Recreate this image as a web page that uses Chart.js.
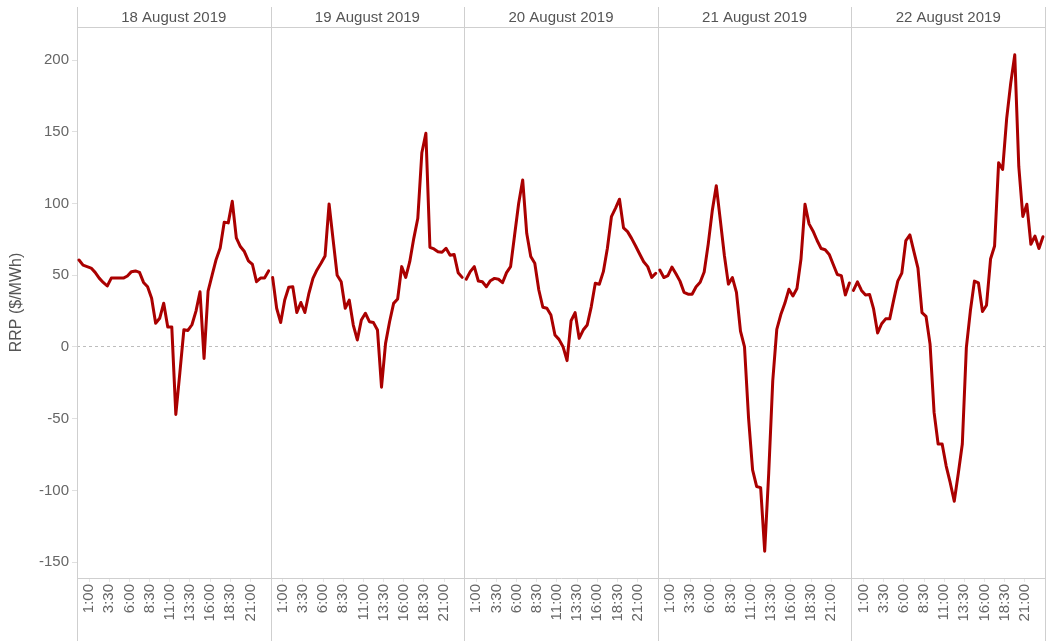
<!DOCTYPE html>
<html>
<head>
<meta charset="utf-8">
<title>RRP by day</title>
<script src="https://cdn.jsdelivr.net/npm/chart.js@4/dist/chart.umd.min.js"></script>
<style>
  html, body { margin: 0; padding: 0; background: #fff; }
  #wrap { position: relative; width: 1049px; height: 641px; }
</style>
</head>
<body>
<div id="wrap"><canvas id="rrpChart"></canvas></div>
<script>
// ===== Data =====
const dayLabels = ['18 August 2019', '19 August 2019', '20 August 2019', '21 August 2019', '22 August 2019'];
const timeLabels = ['1:00', '3:30', '6:00', '8:30', '11:00', '13:30', '16:00', '18:30', '21:00'];
const yTicks = [-150, -100, -50, 0, 50, 100, 150, 200];

// half-hourly RRP, $/MWh
const rrp18 = [60.6, 57, 56, 55, 52, 48, 45, 42.5, 48, 48, 48, 48, 49.5, 52.5, 53, 52,
  45, 42, 34, 16.5, 20, 30.5, 14, 14, -47, -18, 12, 11.5, 15.5, 25, 38.5, -8,
  39, 50, 61, 69, 87, 86.5, 101.5, 76, 70, 66.5, 60, 57.5, 45.5, 48, 48, 53];
const rrp19 = [48.5, 27, 17, 32.7, 41.6, 42, 24, 31, 24, 37.4, 47.8, 53.7, 58.3, 63.4, 99.7, 74.6,
  50, 45.5, 27, 32.7, 15.3, 4.9, 18.8, 23.5, 17.6, 17, 11.8, -28, 2.5, 17.6, 30.4, 33.4,
  56, 48.5, 59.4, 75.7, 89.7, 135.4, 148.9, 69.5, 68.3, 66.4, 66, 68.8, 64, 64.5, 51.8, 48.5];
const rrp20 = [47.2, 52.5, 56, 46, 45.5, 42, 46.2, 47.8, 47.2, 44.8, 51.8, 56, 78, 100, 116.4, 79.2,
  63, 58.3, 39.7, 27.7, 27, 22.3, 8.4, 5.3, 0.2, -9.5, 18.3, 23.9, 6, 11.8, 15.3, 28,
  44.4, 43.7, 52.5, 68.8, 90.8, 96.6, 103, 83, 80.4, 75.7, 70.4, 64.8, 59.4, 56, 48.5, 51.4];
const rrp21 = [53.6, 48.4, 49.7, 55.7, 51, 45.9, 38.1, 36.8, 36.8, 42, 45.1, 52.3, 71.7, 94.9, 112.4, 88.4,
  63.9, 43.8, 48.4, 38.1, 11.1, 0, -49.5, -85.6, -97.2, -98, -142.3, -88, -23.6, 12.3, 22.6, 30.4,
  40.2, 35.5, 40.7, 61.3, 99.5, 85.8, 80.7, 74.2, 68.6, 67.8, 64.5, 57.5, 50.5, 49.7, 36.3, 44.6];
const rrp22 = [39.4, 45.4, 39.4, 36.3, 36.6, 26.5, 9.8, 16.2, 19.6, 19.6, 33, 45.9, 51.5, 74.2, 78.1, 66.5,
  54.9, 24, 21.4, 2, -45.6, -67.6, -67.6, -83, -94.6, -107.5, -88.2, -67.6, -0.5, 25.2, 45.9, 44.6,
  24.7, 29.1, 61.3, 70.4, 128.4, 123.7, 159.3, 183.8, 203.6, 125.8, 91, 99.5, 71.6, 77.3, 68.6, 76.8];

const dayValues = [rrp18, rrp19, rrp20, rrp21, rrp22];

// ===== Layout =====
const SLOTS = 48;            // half hours per panel
const LINE_COLOR = '#aa0000';
const GRID_COLOR = '#cfcfcf';
const FONT = '"Liberation Sans", Arial, sans-serif';

// each day gets its own 48-slot band on one linear x axis
function slotX(day, i) {
  return day * SLOTS + i + 0.5;
}

function timeToX(day, label) {
  const [h, m] = label.split(':').map(Number);
  return day * SLOTS + (h + m / 60) * 2 + 1;
}

// ===== Plugins =====
// panel separators + header rule
const panelFrame = {
  id: 'panelFrame',
  beforeDatasetsDraw(chart) {
    const { ctx, chartArea, scales: { x } } = chart;
    ctx.save();
    ctx.strokeStyle = GRID_COLOR;
    ctx.lineWidth = 1;
    ctx.beginPath();
    for (let d = 0; d <= dayLabels.length; d++) {
      const px = Math.round(x.getPixelForValue(d * SLOTS)) + 0.5;
      ctx.moveTo(px, 7);
      ctx.lineTo(px, chart.height);
    }
    const ty = Math.round(chartArea.top) + 0.5;
    ctx.moveTo(chartArea.left, ty);
    ctx.lineTo(chartArea.right, ty);
    ctx.stroke();
    ctx.restore();
  }
};

// ===== Chart =====
const datasets = dayValues.map((vals, d) => ({
  label: dayLabels[d],
  data: vals.map((v, i) => ({ x: slotX(d, i), y: v })),
  borderColor: LINE_COLOR,
  borderWidth: 3,
  borderJoinStyle: 'round',
  borderCapStyle: 'round',
  pointRadius: 0,
  tension: 0,
  fill: false
}));

const xMax = dayLabels.length * SLOTS;

new Chart(document.getElementById('rrpChart'), {
  type: 'line',
  data: { datasets },
  plugins: [panelFrame],
  options: {
    responsive: true,
    maintainAspectRatio: false,
    animation: false,
    layout: { padding: { left: 0, right: 4, top: 0, bottom: 0 } },
    plugins: {
      legend: { display: false },
      tooltip: { enabled: false }
    },
    scales: {
      x: {
        type: 'linear',
        position: 'bottom',
        min: 0,
        max: xMax,
        afterBuildTicks: (scale) => {
          const ticks = [];
          dayLabels.forEach((_, d) => {
            timeLabels.forEach(t => ticks.push({ value: timeToX(d, t) }));
          });
          scale.ticks = ticks;
        },
        afterFit: (scale) => { scale.height = 63; },
        ticks: {
          autoSkip: false,
          minRotation: 90,
          maxRotation: 90,
          padding: 2,
          color: '#666',
          font: { family: FONT, size: 15 },
          callback: (value, index) => timeLabels[index % timeLabels.length]
        },
        grid: {
          drawOnChartArea: false,
          drawTicks: true,
          tickLength: 4,
          tickColor: '#e6e6e6'
        },
        border: { display: true, color: GRID_COLOR }
      },
      xHead: {
        type: 'linear',
        position: 'top',
        min: 0,
        max: xMax,
        afterBuildTicks: (scale) => {
          scale.ticks = dayLabels.map((_, d) => ({ value: d * SLOTS + SLOTS / 2 }));
        },
        afterFit: (scale) => { scale.height = 27; },
        ticks: {
          autoSkip: false,
          maxRotation: 0,
          padding: 0,
          color: '#555',
          font: { family: FONT, size: 15 },
          callback: (value, index) => dayLabels[index]
        },
        grid: { display: false, drawTicks: false },
        border: { display: false }
      },
      y: {
        min: -161,
        max: 223,
        afterBuildTicks: (scale) => {
          scale.ticks = yTicks.map(v => ({ value: v }));
        },
        afterFit: (scale) => { scale.width = 77; },
        ticks: {
          padding: 3,
          color: '#666',
          font: { family: FONT, size: 15 }
        },
        grid: {
          drawTicks: true,
          tickLength: 5,
          lineWidth: 1,
          color: (ctx) => (ctx.tick && ctx.tick.value === 0 ? '#bdbdbd' : 'rgba(0,0,0,0)'),
          tickColor: '#e0e0e0'
        },
        border: { display: false, dash: [3, 3] },
        title: {
          display: true,
          text: 'RRP ($/MWh)',
          color: '#555',
          padding: { top: 7, bottom: 0 },
          font: { family: FONT, size: 16 }
        }
      }
    }
  }
});
</script>
</body>
</html>
